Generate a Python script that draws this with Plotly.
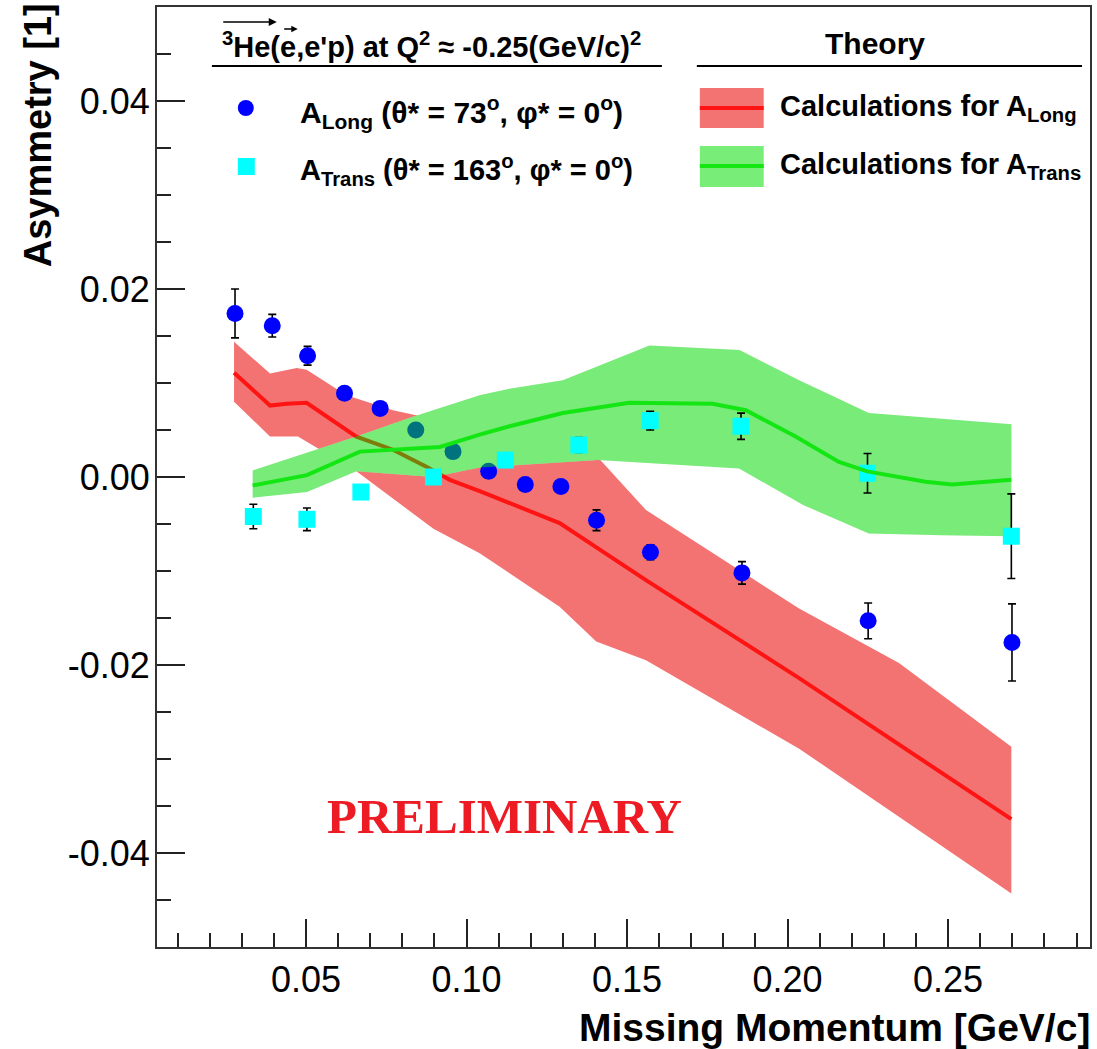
import plotly.graph_objects as go

# ---------------- data ----------------
blue_x = [0.0279, 0.0395, 0.0505, 0.0620, 0.0731, 0.0842, 0.0958, 0.1069, 0.1183, 0.1294, 0.1405, 0.1573, 0.1858, 0.2251, 0.2699]
blue_y = [0.0174, 0.0161, 0.0129, 0.0089, 0.0073, 0.0050, 0.0027, 0.0006, -0.0008, -0.0010, -0.0046, -0.0080, -0.0102, -0.0153, -0.0176]
blue_err = [0.0026, 0.0012, 0.0010, 0.0006, 0.0006, 0.0006, 0.0006, 0.0007, 0.0007, 0.0007, 0.0011, 0.0008, 0.0012, 0.0019, 0.0041]

cyan_x = [0.0336, 0.0503, 0.0671, 0.0897, 0.1121, 0.1350, 0.1572, 0.1855, 0.2249, 0.2697]
cyan_y = [-0.0042, -0.0045, -0.0016, 0.0000, 0.0018, 0.0034, 0.0060, 0.0054, 0.0004, -0.0063]
cyan_err = [0.0013, 0.0012, 0.0007, 0.0007, 0.0007, 0.0008, 0.0010, 0.0014, 0.0021, 0.0045]

red_x = [0.0276, 0.0388, 0.0440, 0.0502, 0.0657, 0.0771, 0.0875, 0.0948, 0.1041, 0.1134, 0.1290, 0.1560, 0.2036, 0.2697]
red_y = [0.0111, 0.0076, 0.0078, 0.0079, 0.0043, 0.0029, 0.0011, -0.0003, -0.0015, -0.0028, -0.0049, -0.0110, -0.0214, -0.0364]
red_up_x = [0.0276, 0.0388, 0.0471, 0.0502, 0.0626, 0.0771, 0.0854, 0.1041, 0.1409, 0.1559, 0.2036, 0.2347, 0.2697]
red_up_y = [0.0144, 0.0110, 0.0116, 0.0114, 0.0087, 0.0071, 0.0065, 0.0030, 0.0021, -0.0035, -0.0140, -0.0198, -0.0287]
red_lo_x = [0.0276, 0.0388, 0.0475, 0.0657, 0.0897, 0.1041, 0.1290, 0.1404, 0.1559, 0.2036, 0.2697]
red_lo_y = [0.0080, 0.0043, 0.0043, 0.0006, -0.0055, -0.0081, -0.0138, -0.0175, -0.0195, -0.0289, -0.0443]

green_x = [0.0334, 0.0503, 0.0668, 0.0917, 0.1041, 0.1134, 0.1300, 0.1507, 0.1766, 0.1870, 0.2025, 0.2160, 0.2248, 0.2430, 0.2512, 0.2697]
green_y = [-0.0009, 0.0002, 0.0027, 0.0032, 0.0045, 0.0054, 0.0068, 0.0079, 0.0078, 0.0071, 0.0043, 0.0016, 0.0006, -0.0005, -0.0008, -0.0003]
green_up_x = [0.0334, 0.0657, 0.0833, 0.1041, 0.1134, 0.1300, 0.1570, 0.1850, 0.2036, 0.2253, 0.2697]
green_up_y = [0.0007, 0.0043, 0.0064, 0.0087, 0.0094, 0.0103, 0.0140, 0.0135, 0.0103, 0.0068, 0.0056]
green_lo_x = [0.0334, 0.0503, 0.0657, 0.0897, 0.1041, 0.1409, 0.1849, 0.2050, 0.2253, 0.2481, 0.2697]
green_lo_y = [-0.0022, -0.0016, 0.0006, 0.0000, 0.0010, 0.0018, 0.0009, -0.0030, -0.0060, -0.0062, -0.0063]

x_ticks = [0.05, 0.10, 0.15, 0.20, 0.25]
x_ticktext = ["0.05", "0.10", "0.15", "0.20", "0.25"]
y_ticks = [-0.04, -0.02, 0.0, 0.02, 0.04]
y_ticktext = ["-0.04", "-0.02", "0.00", "0.02", "0.04"]

# ---------------- layout geometry ----------------
W, H = 1097, 1049
ML, MR, MT, MB = 157, 5, 7, 102
PW, PH = W - ML - MR, H - MT - MB


def PX(px):
    return (px - ML) / PW


def PY(py):
    return (H - MB - py) / PH


FONT = "Liberation Sans, Arial, Helvetica, sans-serif"
RED_BAND = "rgb(243,115,115)"
RED_LINE = "rgb(255,20,20)"
GREEN_LINE = "rgb(20,230,20)"

fig = go.Figure()

# red band
fig.add_trace(go.Scatter(x=red_up_x + red_lo_x[::-1], y=red_up_y + red_lo_y[::-1],
                         fill="toself", fillcolor=RED_BAND, mode="lines",
                         line=dict(width=0), hoverinfo="skip", showlegend=False))
# green band base layer
fig.add_trace(go.Scatter(x=green_up_x + green_lo_x[::-1], y=green_up_y + green_lo_y[::-1],
                         fill="toself", fillcolor="rgb(240,240,240)", mode="lines",
                         line=dict(width=0), hoverinfo="skip", showlegend=False))
# red line
fig.add_trace(go.Scatter(x=red_x, y=red_y, mode="lines",
                         line=dict(color=RED_LINE, width=4), showlegend=False))
# blue points
fig.add_trace(go.Scatter(x=blue_x, y=blue_y, mode="markers",
                         marker=dict(symbol="circle", size=17, color="rgb(0,0,255)", line=dict(width=0)),
                         error_y=dict(type="data", array=blue_err, visible=True, color="black",
                                      thickness=1.6, width=4),
                         showlegend=False))
# green band overlay (semi transparent)
fig.add_trace(go.Scatter(x=green_up_x + green_lo_x[::-1], y=green_up_y + green_lo_y[::-1],
                         fill="toself", fillcolor="rgba(0,230,0,0.5)", mode="lines",
                         line=dict(width=0), hoverinfo="skip", showlegend=False))
# cyan points
fig.add_trace(go.Scatter(x=cyan_x, y=cyan_y, mode="markers",
                         marker=dict(symbol="square", size=17, color="rgb(0,255,255)", line=dict(width=0)),
                         error_y=dict(type="data", array=cyan_err, visible=True, color="black",
                                      thickness=1.6, width=4),
                         showlegend=False))
# green line
fig.add_trace(go.Scatter(x=green_x, y=green_y, mode="lines",
                         line=dict(color=GREEN_LINE, width=4), showlegend=False))

axis_common = dict(showgrid=False, zeroline=False, showline=True, mirror=True,
                   linecolor="#333", linewidth=2, ticks="inside", ticklen=28,
                   tickwidth=1.5, tickcolor="#222",
                   tickfont=dict(family=FONT, size=36, color="black"))

fig.update_xaxes(range=[0.0036, 0.2942], tickmode="array", tickvals=x_ticks, ticktext=x_ticktext,
                 minor=dict(tickmode="linear", tick0=0, dtick=0.01, ticks="inside", ticklen=14,
                            tickwidth=1.5, tickcolor="#222"),
                 ticklabelstandoff=0, **axis_common)
fig.update_yaxes(range=[-0.05, 0.05], tickmode="array", tickvals=y_ticks, ticktext=y_ticktext,
                 minor=dict(tickmode="linear", tick0=0, dtick=0.005, ticks="inside", ticklen=14,
                            tickwidth=1.5, tickcolor="#222"),
                 ticklabelstandoff=-2, **axis_common)

shapes = []
annotations = []

# header lines
shapes.append(dict(type="line", xref="paper", yref="paper", x0=PX(212), x1=PX(663), y0=PY(66), y1=PY(66),
                   line=dict(color="black", width=2)))
shapes.append(dict(type="line", xref="paper", yref="paper", x0=PX(698), x1=PX(1084), y0=PY(66), y1=PY(66),
                   line=dict(color="black", width=2)))
# legend glyphs (left)
shapes.append(dict(type="circle", xref="paper", yref="paper", x0=PX(238), x1=PX(254), y0=PY(116), y1=PY(100),
                   fillcolor="rgb(0,0,255)", line=dict(width=0)))
shapes.append(dict(type="rect", xref="paper", yref="paper", x0=PX(238), x1=PX(255), y0=PY(175), y1=PY(158),
                   fillcolor="rgb(0,255,255)", line=dict(width=0)))
# legend glyphs (right)
shapes.append(dict(type="rect", xref="paper", yref="paper", x0=PX(701), x1=PX(765), y0=PY(128), y1=PY(88),
                   fillcolor=RED_BAND, line=dict(width=0)))
shapes.append(dict(type="line", xref="paper", yref="paper", x0=PX(701), x1=PX(765), y0=PY(108), y1=PY(108),
                   line=dict(color=RED_LINE, width=4)))
shapes.append(dict(type="rect", xref="paper", yref="paper", x0=PX(701), x1=PX(765), y0=PY(187), y1=PY(146),
                   fillcolor="rgb(120,237,120)", line=dict(width=0)))
shapes.append(dict(type="line", xref="paper", yref="paper", x0=PX(701), x1=PX(765), y0=PY(166), y1=PY(166),
                   line=dict(color=GREEN_LINE, width=4)))


def txt(text, px, py, size, xanchor="left", color="black", family=FONT, **kw):
    annotations.append(dict(text=text, xref="paper", yref="paper", x=PX(px), y=PY(py),
                            xanchor=xanchor, yanchor="middle", showarrow=False,
                            font=dict(family=family, size=size, color=color), **kw))


txt("<b><sup>3</sup>He(e,e'p) at Q<sup>2</sup> ≈ -0.25(GeV/c)<sup>2</sup></b>", 220, 45, 29)
txt("<b>A<sub>Long</sub> (θ* = 73<sup>o</sup>, φ* = 0<sup>o</sup>)</b>", 298, 112, 30)
txt("<b>A<sub>Trans</sub> (θ* = 163<sup>o</sup>, φ* = 0<sup>o</sup>)</b>", 298, 170, 29)
txt("<b>Theory</b>", 877, 44, 30, xanchor="center")
txt("<b>Calculations for A<sub>Long</sub></b>", 779, 108, 29)
txt("<b>Calculations for A<sub>Trans</sub></b>", 779, 166, 29)

# arrows over 3He and e
annotations.append(dict(text="", xref="paper", yref="paper", x=PX(277), y=PY(22), ax=-55, ay=0,
                        showarrow=True, arrowhead=2, arrowsize=1, arrowwidth=1.6, arrowcolor="black"))
annotations.append(dict(text="", xref="paper", yref="paper", x=PX(298), y=PY(29), ax=-15, ay=0,
                        showarrow=True, arrowhead=2, arrowsize=0.8, arrowwidth=1.6, arrowcolor="black"))

# axis titles
annotations.append(dict(text="<b>Missing Momentum [GeV/c]</b>", xref="paper", yref="paper",
                        x=PX(1094), y=PY(1027), xanchor="right", yanchor="middle", showarrow=False,
                        font=dict(family=FONT, size=39, color="black")))
annotations.append(dict(text="<b>Asymmetry [1]</b>", xref="paper", yref="paper",
                        x=PX(38), y=PY(1), xanchor="center", yanchor="top", showarrow=False,
                        textangle=-90, font=dict(family=FONT, size=38, color="black")))

# PRELIMINARY
annotations.append(dict(text="<b>PRELIMINARY</b>", xref="x", yref="y", x=0.1119, y=-0.0361,
                        xanchor="center", yanchor="middle", showarrow=False,
                        font=dict(family="Liberation Serif, Times New Roman, serif", size=49,
                                  color="rgb(237,28,36)")))

fig.update_layout(width=W, height=H, margin=dict(l=ML, r=MR, t=MT, b=MB),
                  paper_bgcolor="white", plot_bgcolor="white",
                  shapes=shapes, annotations=annotations, showlegend=False)

fig.write_html("out.html")
